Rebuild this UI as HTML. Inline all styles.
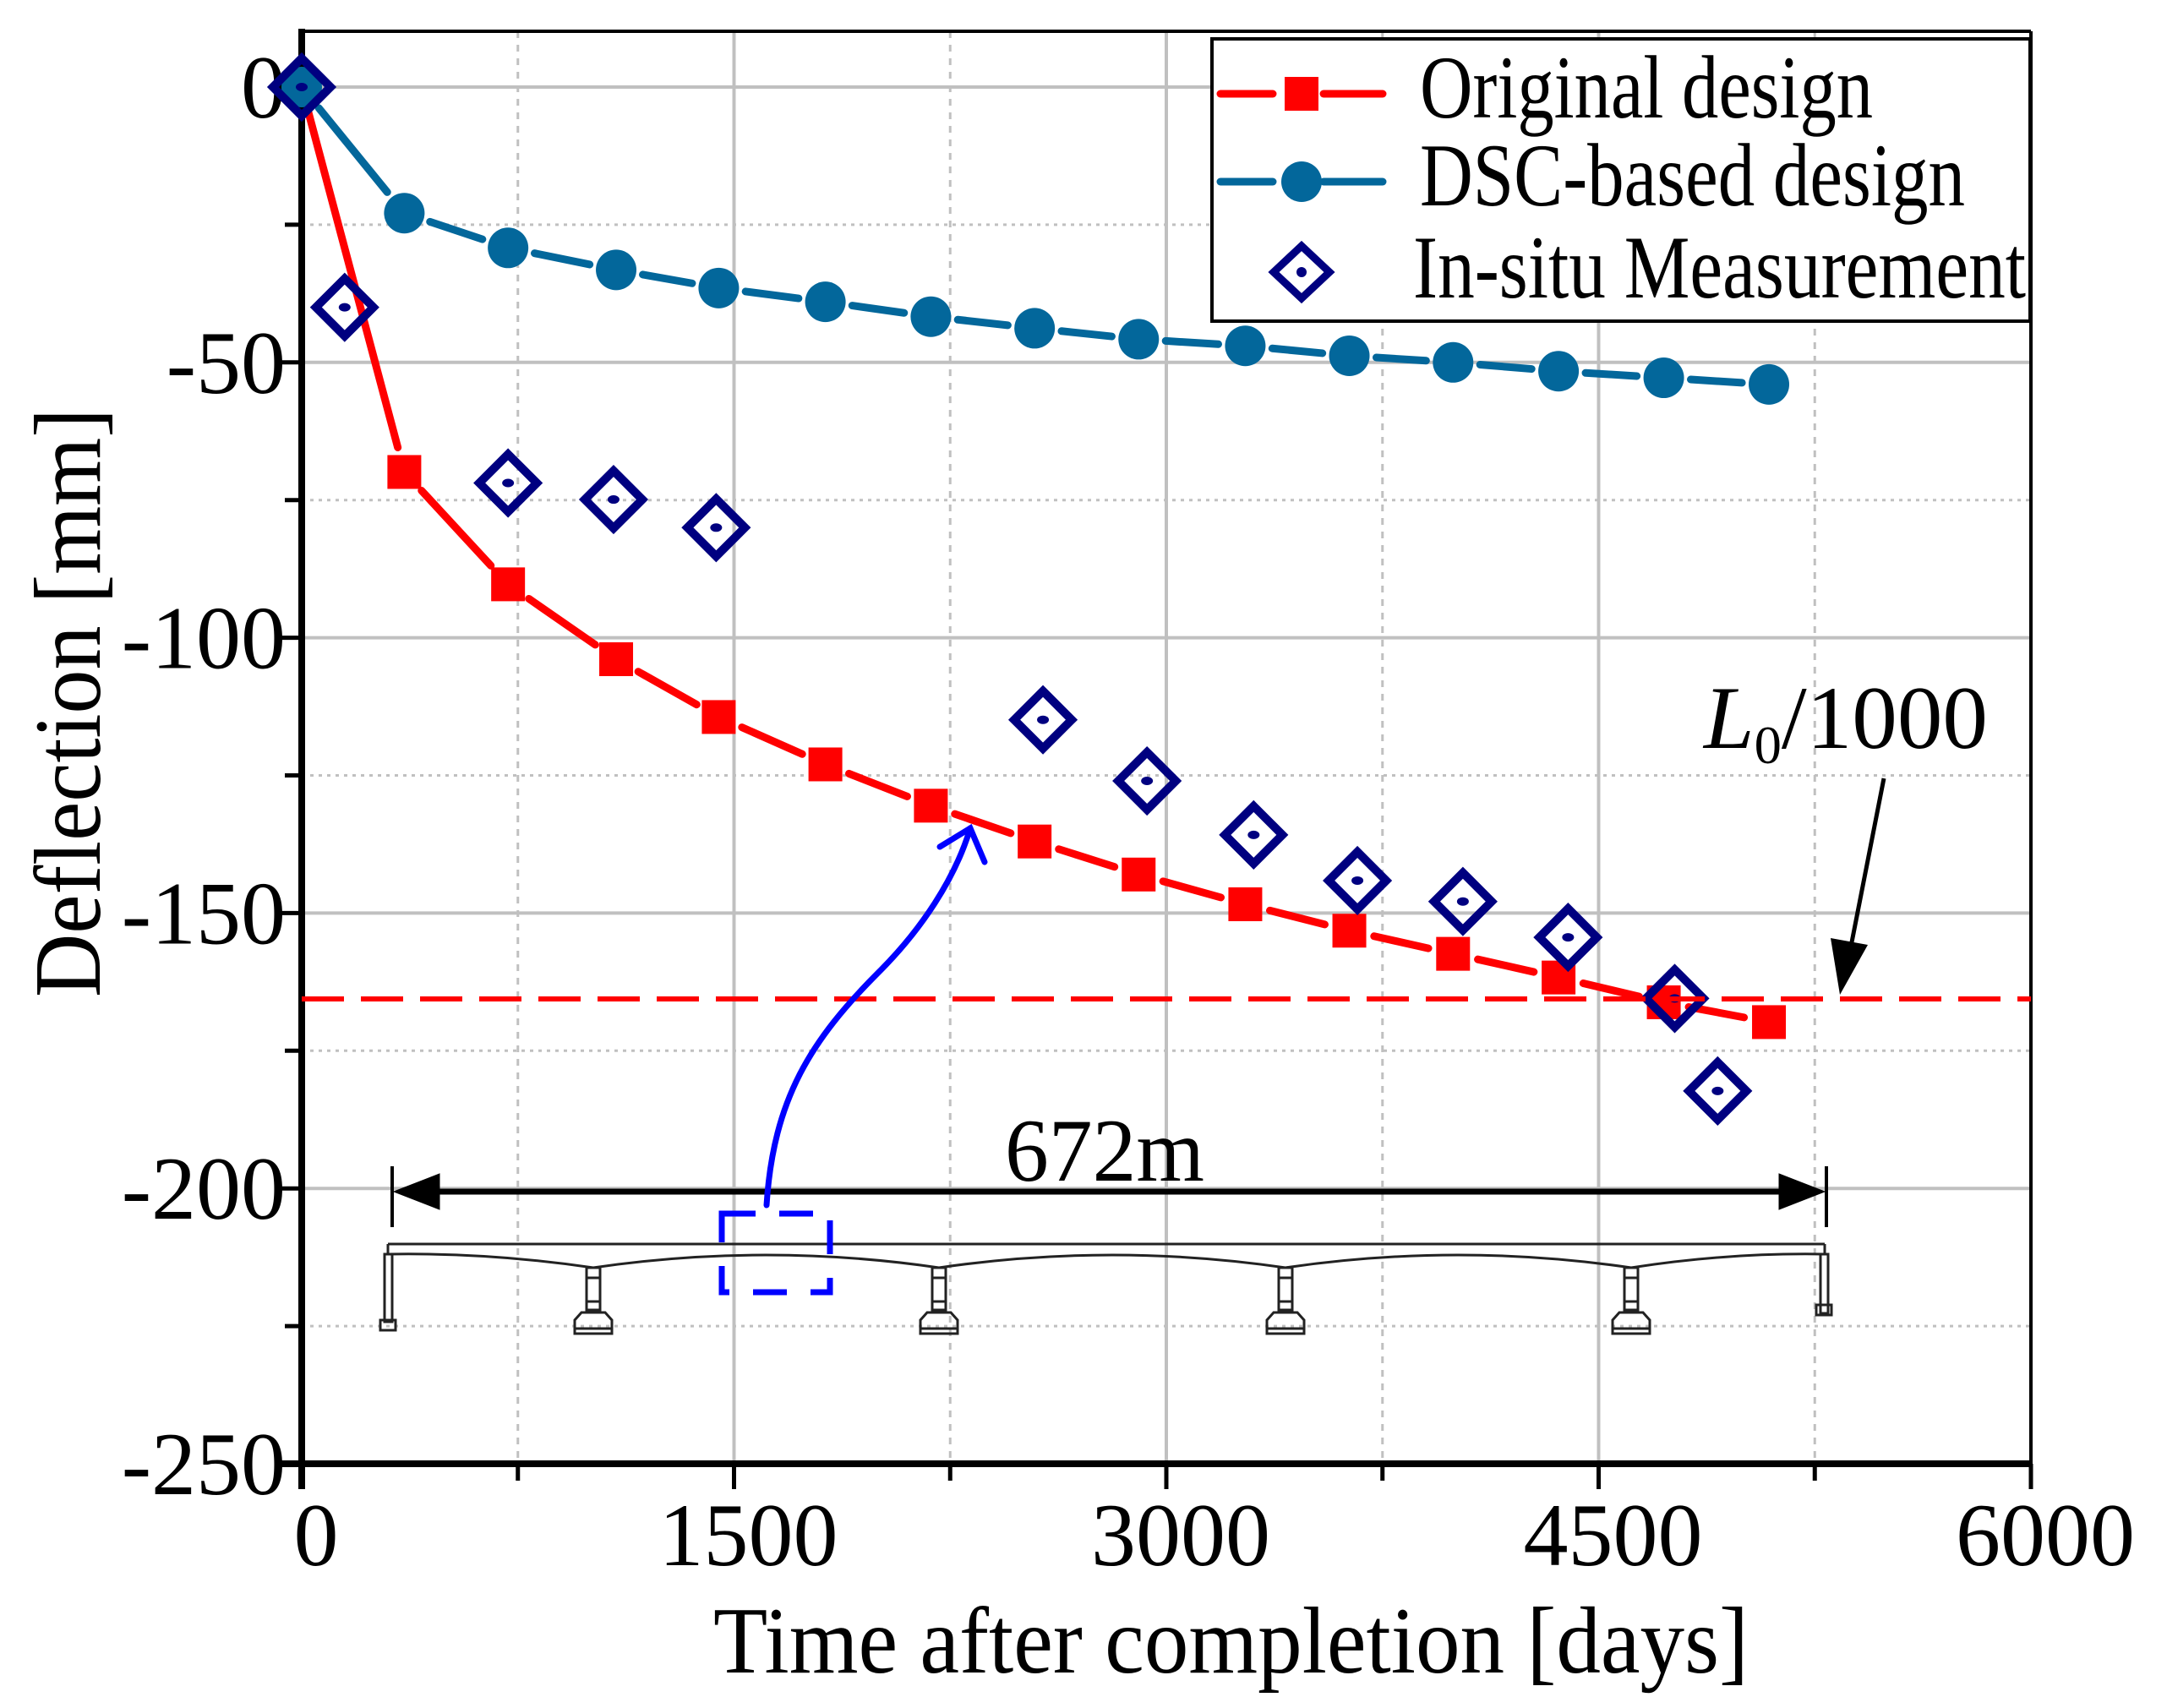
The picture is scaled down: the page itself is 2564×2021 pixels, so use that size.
<!DOCTYPE html>
<html><head><meta charset="utf-8"><style>
html,body{margin:0;padding:0;background:#fff}
svg{display:block;font-family:"Liberation Serif",serif}
</style></head><body>
<svg id="chart" width="2564" height="2021" viewBox="0 0 2564 2021" xmlns="http://www.w3.org/2000/svg">
<g id="grid"></g>
<g id="axes"></g>
<g id="bridge" fill="none" stroke="#222" stroke-width="3">
 <line x1="459" y1="1472" x2="2159" y2="1472"/>
 <path d="M459 1484 Q580 1482 702 1500 Q906 1470 1111 1500 Q1316 1470 1521 1500 Q1725 1470 1930 1500 Q2045 1482 2159 1484"/>
 <line x1="459" y1="1472" x2="459" y2="1484"/><line x1="2159" y1="1472" x2="2159" y2="1484"/>
 <rect x="455" y="1484" width="9" height="80"/><rect x="450" y="1562" width="18" height="12"/>
 <rect x="2154" y="1484" width="9" height="70"/><rect x="2149" y="1544" width="18" height="12"/>
 <g id="piers"></g>
</g>
<g id="series"></g>
<line x1="357" y1="1182" x2="2403" y2="1182" stroke="#ff0000" stroke-width="6" stroke-dasharray="50 20"/>
<g stroke="#000">
 <line x1="500" y1="1410" x2="2125" y2="1410" stroke-width="7"/>
 <line x1="464" y1="1380" x2="464" y2="1452" stroke-width="4"/>
 <line x1="2161" y1="1380" x2="2161" y2="1452" stroke-width="4"/>
 <polygon points="466,1410 520,1389 520,1431" fill="#000"/>
 <polygon points="2159,1410 2105,1389 2105,1431" fill="#000"/>
</g>
<text x="1307" y="1397" font-size="106" text-anchor="middle" textLength="236" lengthAdjust="spacingAndGlyphs">672m</text>
<text x="2016" y="885" font-size="106" textLength="336" lengthAdjust="spacingAndGlyphs"><tspan font-style="italic">L</tspan><tspan font-size="64" dy="18">0</tspan><tspan dy="-18">/1000</tspan></text>
<g>
 <line x1="2229" y1="921" x2="2190" y2="1120" stroke="#000" stroke-width="5"/>
 <polygon points="2177,1177 2166,1110 2210,1118" fill="#000"/>
</g>
<rect x="854" y="1436" width="128" height="93" fill="none" stroke="#0000ff" stroke-width="7" stroke-dasharray="40 28"/>
<g fill="none" stroke="#0000ff" stroke-width="7" stroke-linecap="round">
 <path d="M907 1426 C915 1300 960 1230 1040 1150 C1090 1100 1130 1040 1148 980"/>
 <path d="M1112 1002 L1148 980 L1165 1020"/>
</g>
<g id="legend">
 <rect x="1434" y="46" width="968" height="334" fill="#fff" stroke="#000" stroke-width="4"/>
 <g>
  <line x1="1444" y1="111" x2="1506" y2="111" stroke="#ff0000" stroke-width="9" stroke-linecap="round"/>
  <line x1="1566" y1="111" x2="1636" y2="111" stroke="#ff0000" stroke-width="9" stroke-linecap="round"/>
  <rect x="1520" y="91" width="40" height="40" fill="#ff0000"/>
  <text x="1680" y="139" font-size="106" textLength="536" lengthAdjust="spacingAndGlyphs">Original design</text>
 </g>
 <g>
  <line x1="1444" y1="215" x2="1506" y2="215" stroke="#03679b" stroke-width="9" stroke-linecap="round"/>
  <line x1="1566" y1="215" x2="1636" y2="215" stroke="#03679b" stroke-width="9" stroke-linecap="round"/>
  <circle cx="1540" cy="215" r="24" fill="#03679b"/>
  <text x="1680" y="243" font-size="106" textLength="645" lengthAdjust="spacingAndGlyphs">DSC-based design</text>
 </g>
 <g>
  <polygon points="1540,291 1573,322 1540,353 1507,322" fill="none" stroke="#000080" stroke-width="9"/>
  <circle cx="1540" cy="322" r="6" fill="#000080"/>
  <text x="1672" y="352" font-size="106" textLength="725" lengthAdjust="spacingAndGlyphs">In-situ Measurement</text>
 </g>
</g>
<text x="844" y="1979" font-size="112" textLength="1225" lengthAdjust="spacingAndGlyphs">Time after completion [days]</text>
<text transform="translate(118,1180) rotate(-90)" font-size="112" textLength="697" lengthAdjust="spacingAndGlyphs">Deflection [mm]</text>
</svg>
<script>
const xTicks = [0, 1500, 3000, 4500, 6000];
const yTicks = [0, -50, -100, -150, -200, -250];
const origDays = [0, 356, 716, 1091, 1447, 1817, 2183, 2543, 2904, 3274, 3635, 3995, 4361, 4726, 5091];
const origVals = [0, -69.9, -90.3, -103.9, -114.4, -123, -130.5, -137, -143, -148.4, -153.2, -157.4, -161.7, -166.2, -169.8];
const dscDays = [0, 356, 716, 1091, 1447, 1817, 2183, 2543, 2904, 3274, 3635, 3995, 4361, 4726, 5091];
const dscVals = [0, -22.9, -29.2, -33.2, -36.5, -39, -41.7, -43.8, -45.8, -47, -48.8, -50, -51.6, -52.8, -54];
const measDays = [0, 149, 716, 1082, 1438, 2572, 2933, 3303, 3663, 4029, 4394, 4764, 4913];
const measVals = [0, -40, -71.9, -74.9, -80, -114.9, -126, -135.8, -144.1, -147.9, -154.4, -165.5, -182.3];

const NS = 'http://www.w3.org/2000/svg';
const X0 = 357, X1 = 2403, Y0 = 103, Y1 = 1732, TOP = 37;
const sx = d => X0 + (d / 6000) * (X1 - X0);
const sy = v => Y0 + (-v / 250) * (Y1 - Y0);
function mk(tag, attrs, parent) {
  const e = document.createElementNS(NS, tag);
  for (const k in attrs) e.setAttribute(k, attrs[k]);
  parent.appendChild(e);
  return e;
}
const grid = document.getElementById('grid');
const axes = document.getElementById('axes');
for (let d = 0; d <= 6000; d += 750) {
  if (d === 0) continue;
  const major = d % 1500 === 0;
  const l = mk('line', {x1: sx(d), x2: sx(d), y1: TOP, y2: Y1, stroke: '#c0c0c0', 'stroke-width': major ? 4 : 3, 'stroke-dasharray': major ? '' : '8 8'}, grid);
  
  
  if (d < 6000) {
    const t = mk('line', {x1: sx(d), x2: sx(d), y1: Y1, y2: Y1 + (major ? 30 : 20), stroke: '#000', 'stroke-width': 5}, axes);
    
    
  }
}
for (let v = -25; v >= -225; v -= 25) {
  const major = v % 50 === 0;
  const l = mk('line', {x1: X0, x2: X1, y1: sy(v), y2: sy(v), stroke: '#c0c0c0', 'stroke-width': major ? 4 : 3, 'stroke-dasharray': major ? '' : '4 6'}, grid);
  
  
  const t = mk('line', {x1: X0 - (major ? 30 : 20), x2: X0, y1: sy(v), y2: sy(v), stroke: '#000', 'stroke-width': 5}, axes);
  
  
}
mk('line', {x1: sx(0), x2: X1, y1: sy(0), y2: sy(0), stroke: '#c0c0c0', 'stroke-width': 4}, grid);
mk('line', {x1: X0, x2: X1, y1: TOP, y2: TOP, stroke: '#000', 'stroke-width': 4}, axes);
mk('line', {x1: X1, x2: X1, y1: TOP, y2: Y1, stroke: '#000', 'stroke-width': 4}, axes);
const ya = mk('line', {x1: X0, x2: X0, y1: TOP - 3, y2: Y1 + 30, stroke: '#000', 'stroke-width': 8}, axes);


const xa = mk('line', {x1: X0 - 30, x2: X1 + 2, y1: Y1, y2: Y1, stroke: '#000', 'stroke-width': 8}, axes);


mk('line', {x1: X1, x2: X1, y1: Y1, y2: Y1 + 30, stroke: '#000', 'stroke-width': 5}, axes);
xTicks.forEach(d => {
  const t = mk('text', {x: sx(d) + 17, y: 1852, 'font-size': 106, 'text-anchor': 'middle'}, axes);
  t.textContent = d;
  
  
});
yTicks.forEach(v => {
  const t = mk('text', {x: 338, y: sy(v) + 36, 'font-size': 106, 'text-anchor': 'end'}, axes);
  t.textContent = v;
  
  
});
const piers = document.getElementById('piers');
[702, 1111, 1521, 1930].forEach(px => {
  mk('rect', {x: px - 8, y: 1500, width: 16, height: 50}, piers);
  mk('line', {x1: px - 8, x2: px + 8, y1: 1512, y2: 1512}, piers);
  mk('line', {x1: px - 8, x2: px + 8, y1: 1540, y2: 1540}, piers);
  mk('path', {d: `M${px-14} 1553 L${px+14} 1553 L${px+22} 1562 L${px+22} 1578 L${px-22} 1578 L${px-22} 1562 Z`}, piers);
  mk('line', {x1: px - 22, x2: px + 22, y1: 1572, y2: 1572}, piers);
});
const series = document.getElementById('series');
function lineSeries(days, vals, color, name, gap) {
  const g = mk('g', {}, series);
  
  
  for (let i = 0; i < days.length - 1; i++) {
    const x1 = sx(days[i]), y1 = sy(vals[i]), x2 = sx(days[i + 1]), y2 = sy(vals[i + 1]);
    const L = Math.hypot(x2 - x1, y2 - y1);
    if (L <= 2 * gap) continue;
    const ux = (x2 - x1) / L, uy = (y2 - y1) / L;
    mk('line', {x1: x1 + ux * gap, y1: y1 + uy * gap, x2: x2 - ux * gap, y2: y2 - uy * gap, stroke: color, 'stroke-width': 9, 'stroke-linecap': 'round'}, g);
  }
}
lineSeries(origDays, origVals, '#ff0000', 'original', 30);
lineSeries(dscDays, dscVals, '#03679b', 'dsc', 32);
origDays.forEach((d, i) => {
  const r = mk('rect', {x: sx(d) - 20, y: sy(origVals[i]) - 20, width: 40, height: 40, fill: '#ff0000'}, series);
  
  
});
dscDays.forEach((d, i) => {
  const c = mk('circle', {cx: sx(d), cy: sy(dscVals[i]), r: 24, fill: '#03679b'}, series);
  
  
});
measDays.forEach((d, i) => {
  const cx = sx(d), cy = sy(measVals[i]);
  const g = mk('g', {}, series);
  
  
  mk('polygon', {points: `${cx},${cy-34} ${cx+34},${cy} ${cx},${cy+34} ${cx-34},${cy}`, fill: 'none', stroke: '#000080', 'stroke-width': 10}, g);
  mk('ellipse', {cx: cx, cy: cy, rx: 7, ry: 5, fill: '#000080'}, g);
});
</script>
</body></html>
